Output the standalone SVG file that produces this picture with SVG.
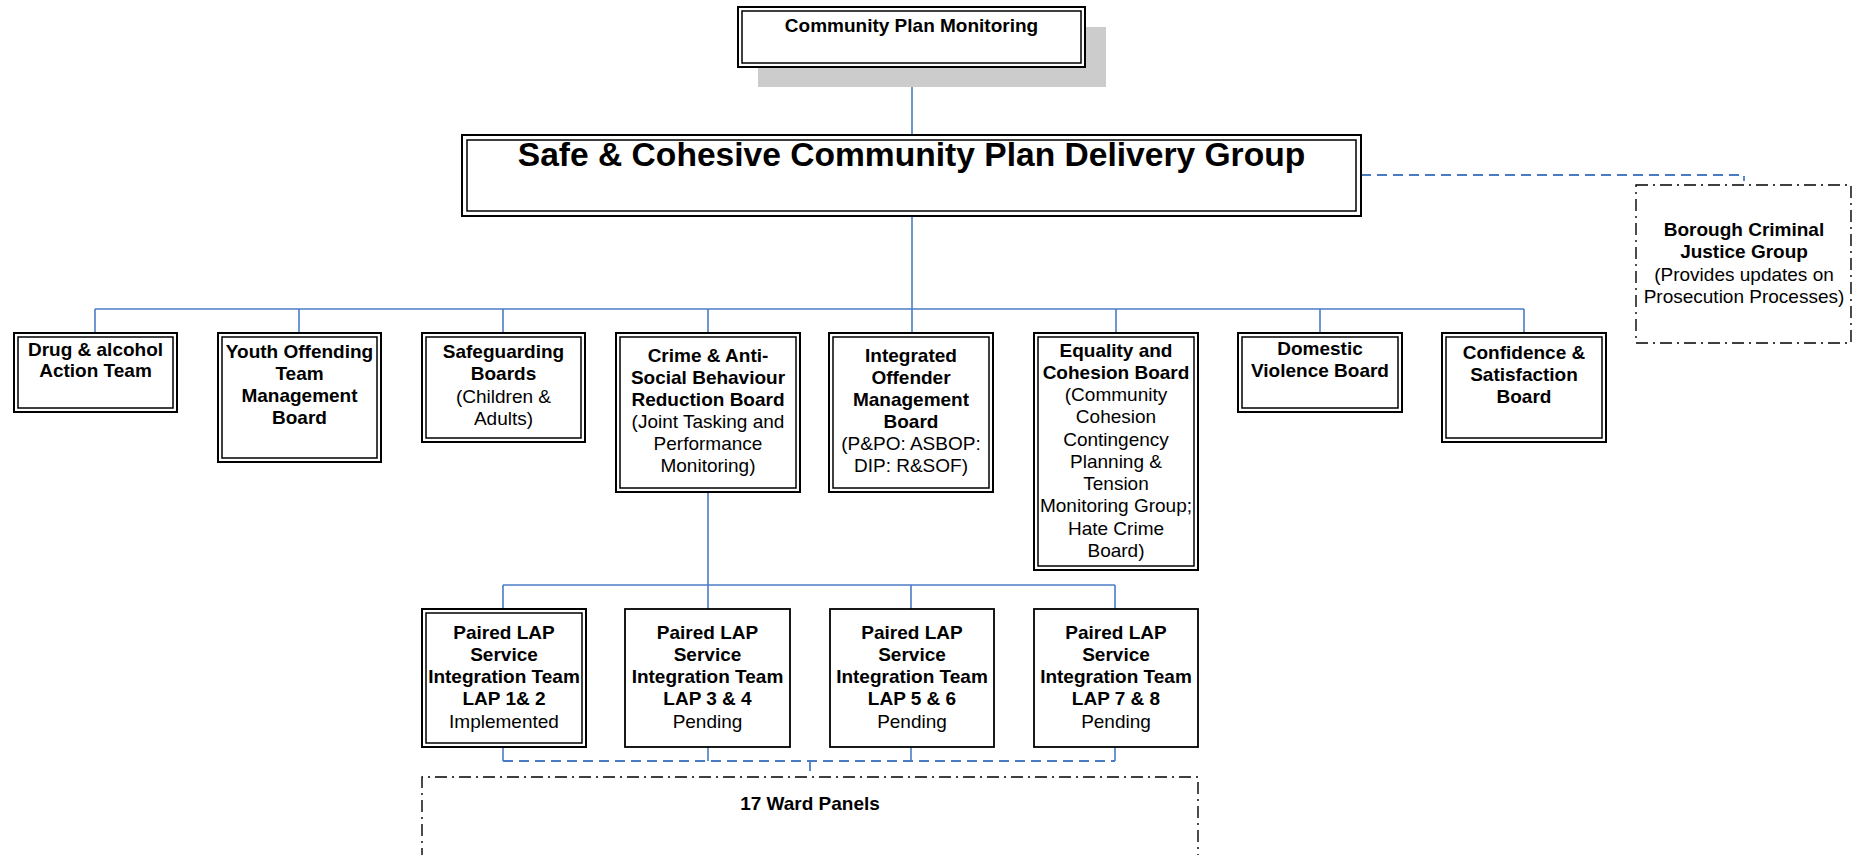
<svg xmlns="http://www.w3.org/2000/svg" width="1859" height="855" viewBox="0 0 1859 855">
<style>
.o{fill:#fff;stroke:#000;stroke-width:2}
.i{fill:none;stroke:#000;stroke-width:1.5}
.s{fill:#fff;stroke:#000;stroke-width:1.8}
.c{fill:none;stroke:#4a7cc6;stroke-width:1.6}
.d{fill:none;stroke:#4a7cc6;stroke-width:1.8;stroke-dasharray:10,6}
.dd{fill:none;stroke:#000;stroke-width:1.4;stroke-dasharray:12,5,2,5}
text{font-family:"Liberation Sans",Arial,sans-serif;font-size:19px;text-anchor:middle;fill:#000}
.b{font-weight:bold}
.t{font-weight:bold;font-size:33.6px}
</style>
<rect width="1859" height="855" fill="#fff"/>
<g id="connectors">
<line class="c" x1="912" y1="67" x2="912" y2="135"/>
<line class="c" x1="912" y1="216" x2="912" y2="309"/>
<line class="c" x1="95" y1="309" x2="1524" y2="309"/>
<path class="c" d="M95,309V333M299,309V333M503,309V333M708,309V333M912,309V333M1116,309V333M1320,309V333M1524,309V333"/>
<path class="d" d="M1361,175H1744V181"/>
<line class="c" x1="708" y1="492" x2="708" y2="585"/>
<line class="c" x1="503" y1="585" x2="1115" y2="585"/>
<path class="c" d="M503,585V609M708,585V609M911,585V609M1115,585V609"/>
<path class="c" d="M503,747V761M708,747V761M911,747V761M1115,747V761"/>
<path class="d" d="M503,761H1115"/>
<path class="d" d="M810,761V777"/>
</g>
<g id="cpm">
<rect x="758" y="27" width="348" height="60" fill="#cccccc"/>
<rect class="o" x="738" y="7" width="347" height="60"/>
<rect class="i" x="742" y="11" width="339" height="52"/>
<text class="b" x="911.5" y="32">Community Plan Monitoring</text>
</g>
<g id="delivery">
<rect class="o" x="462" y="135" width="899" height="81"/>
<rect class="i" x="467" y="140" width="889" height="71"/>
<text class="t" x="911.5" y="166">Safe &amp; Cohesive Community Plan Delivery Group</text>
</g>
<g id="borough">
<rect class="dd" x="1636" y="185" width="215" height="158"/>
<text class="b" x="1744" y="236">Borough Criminal</text>
<text class="b" x="1744" y="258">Justice Group</text>
<text x="1744" y="281">(Provides updates on</text>
<text x="1744" y="303">Prosecution Processes)</text>
</g>
<g id="drug">
<rect class="o" x="14" y="333" width="163" height="79"/>
<rect class="i" x="18" y="337" width="155" height="71"/>
<text class="b" x="95.5" y="356">Drug &amp; alcohol</text>
<text class="b" x="95.5" y="377">Action Team</text>
</g>
<g id="youth">
<rect class="o" x="218" y="333" width="163" height="129"/>
<rect class="i" x="222" y="337" width="155" height="121"/>
<text class="b" x="299.5" y="358">Youth Offending</text>
<text class="b" x="299.5" y="380">Team</text>
<text class="b" x="299.5" y="402">Management</text>
<text class="b" x="299.5" y="424">Board</text>
</g>
<g id="safeguarding">
<rect class="o" x="422" y="333" width="163" height="109"/>
<rect class="i" x="426" y="337" width="155" height="101"/>
<text class="b" x="503.5" y="358">Safeguarding</text>
<text class="b" x="503.5" y="380">Boards</text>
<text x="503.5" y="403">(Children &amp;</text>
<text x="503.5" y="425">Adults)</text>
</g>
<g id="crime">
<rect class="o" x="616" y="333" width="184" height="159"/>
<rect class="i" x="620" y="337" width="176" height="151"/>
<text class="b" x="708" y="362">Crime &amp; Anti-</text>
<text class="b" x="708" y="384">Social Behaviour</text>
<text class="b" x="708" y="406">Reduction Board</text>
<text x="708" y="428">(Joint Tasking and</text>
<text x="708" y="450">Performance</text>
<text x="708" y="472">Monitoring)</text>
</g>
<g id="iom">
<rect class="o" x="829" y="333" width="164" height="159"/>
<rect class="i" x="833" y="337" width="156" height="151"/>
<text class="b" x="911" y="362">Integrated</text>
<text class="b" x="911" y="384">Offender</text>
<text class="b" x="911" y="406">Management</text>
<text class="b" x="911" y="428">Board</text>
<text x="911" y="450">(P&amp;PO: ASBOP:</text>
<text x="911" y="472">DIP: R&amp;SOF)</text>
</g>
<g id="equality">
<rect class="o" x="1034" y="333" width="164" height="237"/>
<rect class="i" x="1038" y="337" width="156" height="229"/>
<text class="b" x="1116" y="357">Equality and</text>
<text class="b" x="1116" y="379">Cohesion Board</text>
<text x="1116" y="401">(Community</text>
<text x="1116" y="423">Cohesion</text>
<text x="1116" y="446">Contingency</text>
<text x="1116" y="468">Planning &amp;</text>
<text x="1116" y="490">Tension</text>
<text x="1116" y="512">Monitoring Group;</text>
<text x="1116" y="535">Hate Crime</text>
<text x="1116" y="557">Board)</text>
</g>
<g id="domestic">
<rect class="o" x="1238" y="333" width="164" height="79"/>
<rect class="i" x="1242" y="337" width="156" height="71"/>
<text class="b" x="1320" y="355">Domestic</text>
<text class="b" x="1320" y="377">Violence Board</text>
</g>
<g id="confidence">
<rect class="o" x="1442" y="333" width="164" height="109"/>
<rect class="i" x="1446" y="337" width="156" height="101"/>
<text class="b" x="1524" y="359">Confidence &amp;</text>
<text class="b" x="1524" y="381">Satisfaction</text>
<text class="b" x="1524" y="403">Board</text>
</g>
<g id="lap12">
<rect class="o" x="422" y="609" width="164" height="138"/>
<rect class="i" x="426" y="613" width="156" height="130"/>
<text class="b" x="504" y="639">Paired LAP</text>
<text class="b" x="504" y="661">Service</text>
<text class="b" x="504" y="683">Integration Team</text>
<text class="b" x="504" y="705">LAP 1&amp; 2</text>
<text x="504" y="728">Implemented</text>
</g>
<g id="lap34">
<rect class="s" x="625" y="609" width="165" height="138"/>
<text class="b" x="707.5" y="639">Paired LAP</text>
<text class="b" x="707.5" y="661">Service</text>
<text class="b" x="707.5" y="683">Integration Team</text>
<text class="b" x="707.5" y="705">LAP 3 &amp; 4</text>
<text x="707.5" y="728">Pending</text>
</g>
<g id="lap56">
<rect class="s" x="830" y="609" width="164" height="138"/>
<text class="b" x="912" y="639">Paired LAP</text>
<text class="b" x="912" y="661">Service</text>
<text class="b" x="912" y="683">Integration Team</text>
<text class="b" x="912" y="705">LAP 5 &amp; 6</text>
<text x="912" y="728">Pending</text>
</g>
<g id="lap78">
<rect class="s" x="1034" y="609" width="164" height="138"/>
<text class="b" x="1116" y="639">Paired LAP</text>
<text class="b" x="1116" y="661">Service</text>
<text class="b" x="1116" y="683">Integration Team</text>
<text class="b" x="1116" y="705">LAP 7 &amp; 8</text>
<text x="1116" y="728">Pending</text>
</g>
<g id="ward">
<path class="dd" d="M422,860V777H1198V860"/>
<text class="b" x="810" y="810">17 Ward Panels</text>
</g>
</svg>
